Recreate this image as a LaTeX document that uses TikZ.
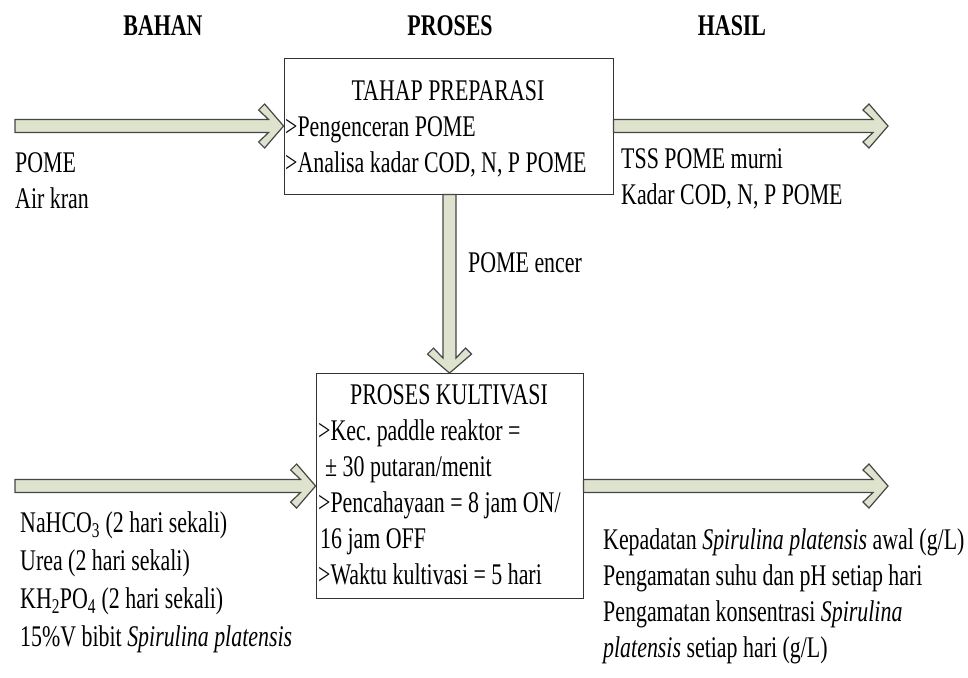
\documentclass[tikz,border=0pt]{standalone}
\usepackage{fontspec}
\setmainfont{Liberation Serif}[FakeStretch=0.73]
\usetikzlibrary{calc,positioning}
\frenchspacing

\definecolor{arrfill}{RGB}{221,227,205}
\definecolor{arrline}{RGB}{70,70,70}

\tikzset{
  box/.style={draw=black!80, line width=0.8pt, inner sep=0pt},
  txt/.style={inner sep=0pt, font=\fontsize{30}{36}\selectfont},
  head/.style={inner sep=0pt, font=\fontsize{30}{36}\selectfont\bfseries},
  blockarr/.style={draw=arrline, fill=arrfill, line width=1.2pt, line join=miter},
}

% block arrow with chevron head: from, tip, direction
\newcommand{\blockarrow}[3]{%
  \path[blockarr] let \p1=($(#2)-(#1)$), \n1={veclen(\x1,\y1)} in
    {[shift={(#2)}, rotate=#3]
      (-\n1,6.5) -- (-15,6.5) -- (-25,16) -- (-19,22) -- (0,0)
      -- (-19,-22) -- (-25,-16) -- (-15,-6.5) -- (-\n1,-6.5) -- cycle};
}

\begin{document}
\begin{tikzpicture}[x=1pt, y=-1pt]
  \useasboundingbox (0,0) rectangle (968,677);

  % column heads
  \node[head] (bahan)  at (163,26) {BAHAN};
  \node[head] (proses) at (450,26) {PROSES};
  \node[head] (hasil)  at (732,26) {HASIL};

  % process boxes
  \node[box, minimum width=329, minimum height=136] (prep) at (448.5,126) {};
  \node[box, minimum width=267, minimum height=225] (kult) at (449.5,486) {};

  % free ends of the flows
  \coordinate (inA)  at (15,126);
  \coordinate (outA) at (888,126);
  \coordinate (inB)  at (15,486);
  \coordinate (outB) at (888,486);

  \blockarrow{inA}{prep.west}{0}
  \blockarrow{prep.east}{outA}{0}
  \blockarrow{prep.south}{kult.north}{-90}
  \blockarrow{inB}{kult.west}{0}
  \blockarrow{kult.east}{outB}{0}

  % tahap preparasi
  \node[txt, anchor=base] (prepT) at (448,100) {TAHAP PREPARASI};
  \node[txt, anchor=base west] (prep1) at (285,136) {>Pengenceran POME};
  \node[txt, anchor=base west] (prep2) at (285,172) {>Analisa kadar COD, N, P POME};

  % proses kultivasi
  \node[txt, anchor=base] (kultT) at (449,404) {PROSES KULTIVASI};
  \node[txt, anchor=base west] (kult1) at (318,440) {>Kec. paddle reaktor =};
  \node[txt, anchor=base west] (kult2) at (325,476) {± 30 putaran/menit};
  \node[txt, anchor=base west] (kult3) at (318,512) {>Pencahayaan = 8 jam ON/};
  \node[txt, anchor=base west] (kult4) at (320,548) {16 jam OFF};
  \node[txt, anchor=base west] (kult5) at (318,584) {>Waktu kultivasi = 5 hari};

  \node[txt, anchor=base west] (encer) at (468,272) {POME encer};

  % bahan
  \foreach \t [count=\i] in {POME, Air kran}
    \node[txt, anchor=base west] (bahanA\i) at (15,{136+36*\i}) {\t};
  \foreach \t [count=\i] in {NaHCO\textsubscript{3} (2 hari sekali),
      Urea (2 hari sekali), KH\textsubscript{2}PO\textsubscript{4} (2 hari sekali),
      15\%V bibit \textit{Spirulina platensis}}
    \node[txt, anchor=base west] (bahanB\i) at (20,{494+38*\i}) {\t};

  % hasil
  \foreach \t [count=\i] in {TSS POME murni, {Kadar COD, N, P POME}}
    \node[txt, anchor=base west] (hasilA\i) at (621,{132+36*\i}) {\t};
  \foreach \t [count=\i] in {Kepadatan \textit{Spirulina platensis} awal (g/L),
      Pengamatan suhu dan pH setiap hari,
      Pengamatan konsentrasi \textit{Spirulina},
      \textit{platensis} setiap hari (g/L)}
    \node[txt, anchor=base west] (hasilB\i) at (603,{513+36*\i}) {\t};
\end{tikzpicture}
\end{document}
